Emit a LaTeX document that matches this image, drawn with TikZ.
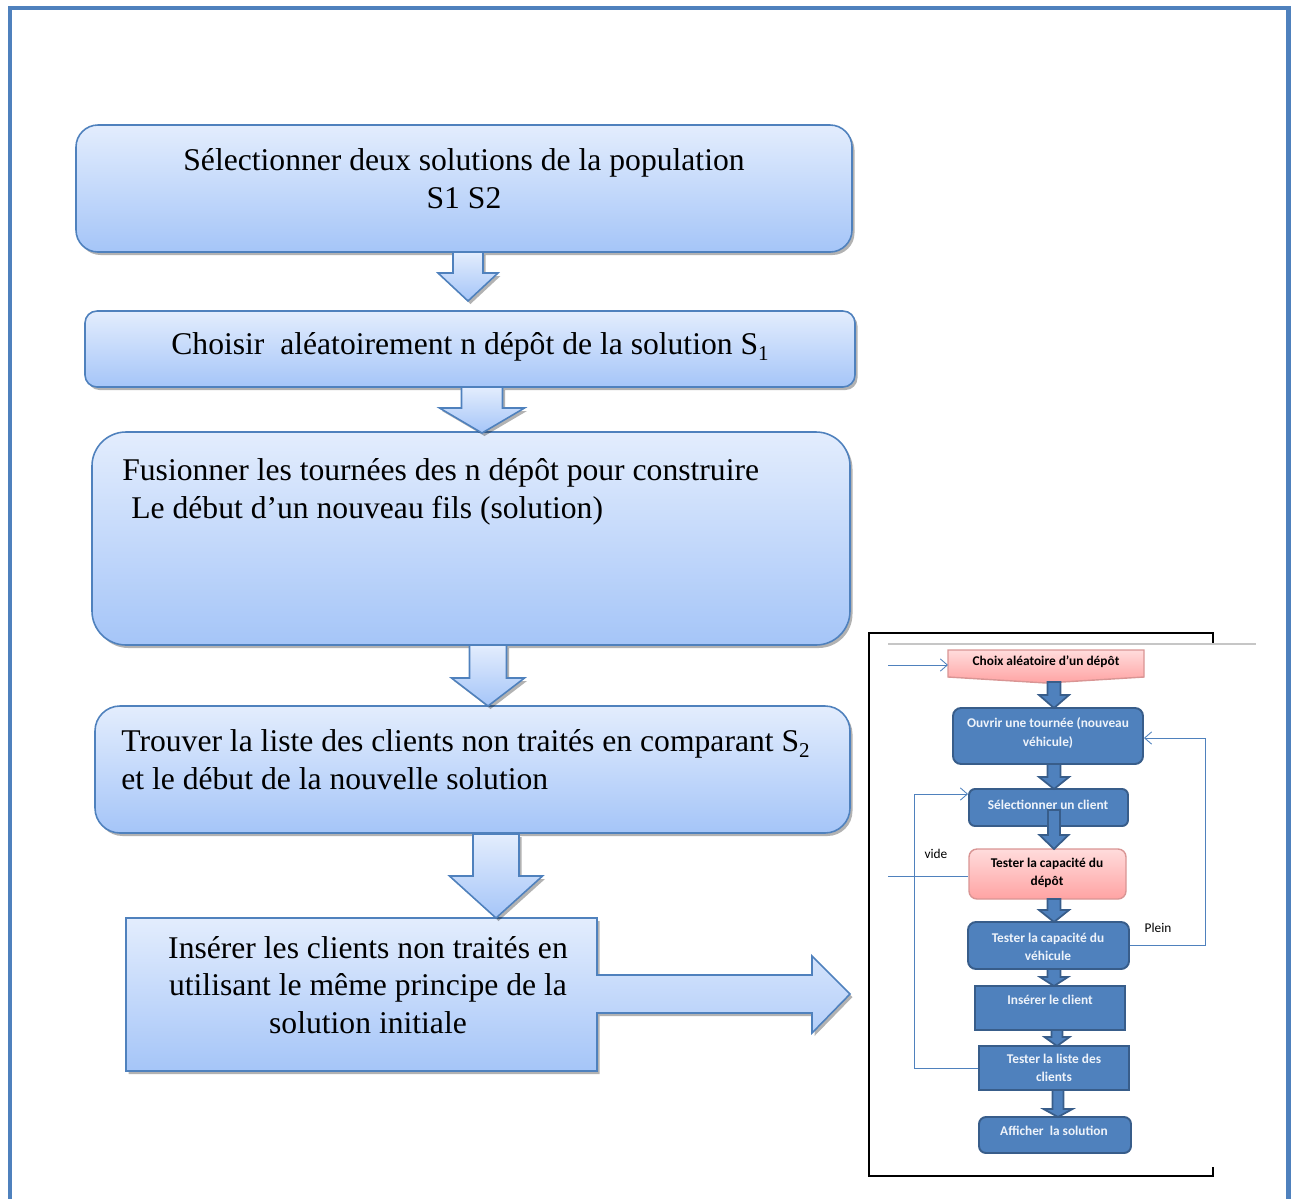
\documentclass[tikz,border=0pt]{standalone}
\usepackage{fontspec}
\setmainfont{Liberation Serif}
\newfontfamily\insetfont{Carlito}
\usetikzlibrary{fit,shadows,arrows.meta}
\definecolor{frameblue}{HTML}{4F81BD}
\definecolor{topblue}{HTML}{E3EDFD}
\definecolor{botblue}{HTML}{A5C5F8}
\definecolor{darkborder}{HTML}{385D8A}
\definecolor{pinktop}{HTML}{FFDCDC}
\definecolor{pinkbot}{HTML}{FFA3A3}
\definecolor{pinkborder}{HTML}{D99594}
\definecolor{insettext}{HTML}{EEF3FA}
\newcommand\subnum[1]{\raisebox{-0.17em}{\fontsize{12}{12}\selectfont #1}}
\tikzset{
  softshadow/.style={drop shadow={shadow xshift=0.05cm, shadow yshift=-0.06cm, fill=black, opacity=0.3}},
  mainbox/.style={draw=frameblue, line width=0.9pt, top color=topblue, bottom color=botblue, inner sep=0pt, softshadow},
  bigarrow/.style={draw=frameblue, line width=0.9pt, top color=topblue, bottom color=botblue, line join=miter, softshadow},
  maintext/.style={font=\fontsize{18}{21.5}\selectfont, inner sep=0pt},
  flowbox/.style={draw=darkborder, line width=1.1pt, fill=frameblue, inner sep=0pt},
  pinkbox/.style={draw=pinkborder, line width=0.8pt, top color=pinktop, bottom color=pinkbot, inner sep=0pt},
  smallarrow/.style={draw=darkborder, line width=1pt, fill=frameblue},
  flowtext/.style={font=\insetfont\bfseries\fontsize{7.6}{10.3}\selectfont, text=insettext, align=center, inner sep=0pt},
  pinktext/.style={font=\insetfont\bfseries\fontsize{7.6}{10.3}\selectfont, text=black, align=center, inner sep=0pt},
  link/.style={draw=frameblue, line width=0.5pt},
  linkarrow/.style={link, -{Straight Barb[length=4pt,width=7pt]}},
  labeltext/.style={font=\insetfont\fontsize{7.6}{9}\selectfont, inner sep=0pt},
}
% style, x, ytop, shaft half width, ybase, head half width, ytip
\newcommand\blockdown[7]{%
  \path[#1] (#2-#4,#3) -- (#2+#4,#3) -- (#2+#4,#5) -- (#2+#6,#5) -- (#2,#7) -- (#2-#6,#5) -- (#2-#4,#5) -- cycle;}
\begin{document}
\begin{tikzpicture}[x=0.02cm,y=-0.02cm]
\useasboundingbox (0,0) rectangle (1295,1198);
\begin{scope}
\clip (0,0) rectangle (1295,1198);
\draw[frameblue, line width=2.8pt] (10,8) rectangle (1288.5,1240);
\end{scope}

% main boxes
\node[mainbox, rounded corners=0.44cm, fit={(76,125)(852,252)}] (b1) {};
\node[maintext, align=center] (t1) at (464,179) {Sélectionner deux solutions de la population\\S1 S2};

\node[mainbox, rounded corners=0.24cm, fit={(85,311)(855,387)}] (b2) {};
\node[maintext] (t2) at (470,347) {Choisir\ \ aléatoirement n dépôt de la solution S\subnum{1}};

\node[mainbox, rounded corners=0.68cm, fit={(92,432)(850,645)}] (b3) {};
\node[maintext, align=left, anchor=west] (t3) at (122,492) {Fusionner les tournées des n dépôt pour construire\\\hspace*{0.18cm}Le début d’un nouveau fils (solution)};

\node[mainbox, rounded corners=0.5cm, fit={(95,706)(850,833)}] (b4) {};
\node[maintext, align=left, anchor=west] (t4) at (121,760) {Trouver la liste des clients non traités en comparant S\subnum{2}\\et le début de la nouvelle solution};

\path[bigarrow] (126,918) -- (597,918) -- (597,975) -- (812,975) -- (812,956) -- (850,994) -- (812,1033) -- (812,1013) -- (597,1013) -- (597,1071) -- (126,1071) -- cycle;
\node[maintext, align=center] (t5) at (368,985) {Insérer les clients non traités en\\utilisant le même principe de la\\solution initiale};

% big down arrows
\blockdown{bigarrow}{468}{252}{15}{273}{30}{301}
\blockdown{bigarrow}{482}{387}{20.5}{408}{42.5}{433}
\blockdown{bigarrow}{488}{645}{18.5}{678}{36.5}{706}
\blockdown{bigarrow}{496}{834}{23}{876}{46.5}{918}

% inset frame
\draw[black, line width=0.9pt] (1213,643) -- (1213,633) -- (869,633) -- (869,1176) -- (1213,1176) -- (1213,1167);
\draw[gray!45, line width=0.9pt] (888,644) -- (1256,644);

% inset flowchart
\path[pinkbox] (948,650) -- (1144,650) -- (1144,677) -- (1046,683) -- (948,677) -- cycle;
\node[pinktext] (choix) at (1046,662) {Choix aléatoire d’un dépôt};
\coordinate (choixW) at (948,665);
\coordinate (inA) at (888,665);
\draw[linkarrow] (inA) -- (choixW);

\node[flowbox, rounded corners=0.16cm, fit={(953,708)(1143,764)}] (ouvrir) {};
\node[flowtext] (ouvrirT) at (1048,733) {Ouvrir une tournée (nouveau\\véhicule)};

\node[flowbox, rounded corners=0.12cm, fit={(969,789)(1128,826)}] (select) {};
\node[flowtext] (selectT) at (1048,805) {Sélectionner un client};

\node[pinkbox, rounded corners=0.16cm, fit={(969,849)(1126,899)}] (depot) {};
\node[pinktext] (depotT) at (1047,873) {Tester la capacité du\\dépôt};

\node[flowbox, rounded corners=0.16cm, fit={(968,922)(1129,969)}] (vehic) {};
\node[flowtext] (vehicT) at (1048,947) {Tester la capacité du\\véhicule};

\node[flowbox, fit={(975,986)(1125,1030)}] (inser) {};
\node[flowtext] (inserT) at (1050,1000) {Insérer le client};

\node[flowbox, fit={(979,1046)(1129,1090)}] (liste) {};
\node[flowtext] (listeT) at (1054,1068) {Tester la liste des\\clients};

\node[flowbox, rounded corners=0.14cm, fit={(979,1117)(1131,1153)}] (affich) {};
\node[flowtext] (affichT) at (1054,1131) {Afficher\ \ la solution};

% small block arrows
\blockdown{smallarrow}{1054}{682}{6.5}{695}{15}{708}
\blockdown{smallarrow}{1054}{764}{6.5}{777}{15}{789}
\blockdown{smallarrow}{1054}{810}{6}{835}{14.5}{849}
\blockdown{smallarrow}{1054}{899}{6.5}{910}{15}{922}
\blockdown{smallarrow}{1054}{969}{6.5}{977}{14}{986}
\blockdown{smallarrow}{1057}{1030}{5.5}{1037}{12.5}{1046}
\blockdown{smallarrow}{1058}{1090}{5.5}{1109}{14.5}{1117}

% thin links
\coordinate (loopR) at (1205,738);
\draw[linkarrow] (vehic.east) -| (loopR) -- (ouvrir.east |- loopR);
\coordinate (loopL) at (914,794);
\draw[linkarrow] (liste.west) -| (loopL) -- (select.west |- loopL);
\coordinate (inB) at (888,876);
\draw[link] (inB) -- (depot.west |- inB);
\node[labeltext] (vide) at (936,854) {vide};
\node[labeltext] (plein) at (1158,928) {Plein};
\end{tikzpicture}
\end{document}
